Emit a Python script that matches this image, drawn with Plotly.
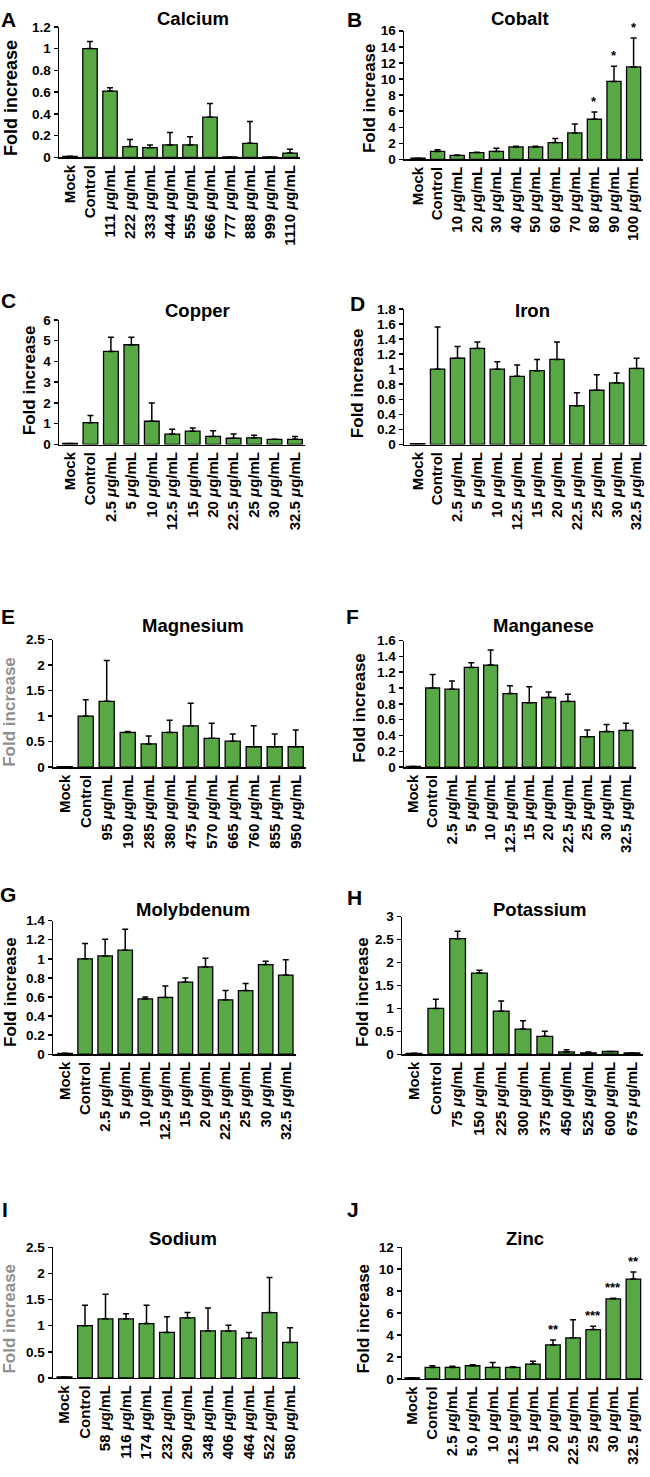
import plotly.graph_objects as go

W, H = 650, 1477
U = " <i>μ</i>g/mL"

# ---------------- data ----------------
cat_calcium = ["Mock", "Control"] + [f"{c}{U}" for c in ["111", "222", "333", "444", "555", "666", "777", "888", "999", "1110"]]
val_calcium = [0.01, 1.0, 0.61, 0.10, 0.09, 0.115, 0.115, 0.37, 0.005, 0.13, 0.005, 0.04]
err_calcium = [0, 0.065, 0.03, 0.065, 0.025, 0.115, 0.075, 0.125, 0, 0.20, 0, 0.035]

cat_cobalt = ["Mock", "Control"] + [f"{c}{U}" for c in ["10", "20", "30", "40", "50", "60", "70", "80", "90", "100"]]
val_cobalt = [0.15, 1.0, 0.5, 0.85, 1.0, 1.55, 1.55, 2.1, 3.3, 5.0, 9.7, 11.5]
err_cobalt = [0, 0.2, 0.05, 0.05, 0.4, 0.1, 0.1, 0.5, 1.1, 0.9, 1.9, 3.6]
sig_cobalt = ["", "", "", "", "", "", "", "", "", "*", "*", "*"]

cat_copper = ["Mock", "Control"] + [f"{c}{U}" for c in ["2.5", "5", "10", "12.5", "15", "20", "22.5", "25", "30", "32.5"]]
val_copper = [0.05, 1.05, 4.48, 4.8, 1.12, 0.5, 0.64, 0.39, 0.3, 0.32, 0.25, 0.25]
err_copper = [0, 0.35, 0.68, 0.36, 0.88, 0.24, 0.15, 0.27, 0.2, 0.13, 0, 0.13]

cat_iron = ["Mock", "Control"] + [f"{c}{U}" for c in ["2.5", "5", "10", "12.5", "15", "20", "22.5", "25", "30", "32.5"]]
val_iron = [0.01, 1.0, 1.145, 1.275, 1.0, 0.905, 0.98, 1.13, 0.515, 0.72, 0.817, 1.01]
err_iron = [0, 0.56, 0.155, 0.085, 0.1, 0.152, 0.15, 0.23, 0.171, 0.206, 0.133, 0.135]

cat_magnesium = ["Mock", "Control"] + [f"{c}{U}" for c in ["95", "190", "285", "380", "475", "570", "665", "760", "855", "950"]]
val_magnesium = [0.01, 1.0, 1.29, 0.68, 0.455, 0.68, 0.81, 0.565, 0.51, 0.40, 0.40, 0.40]
err_magnesium = [0, 0.32, 0.80, 0.02, 0.155, 0.24, 0.44, 0.295, 0.14, 0.41, 0.25, 0.33]

cat_manganese = ["Mock", "Control"] + [f"{c}{U}" for c in ["2.5", "5", "10", "12.5", "15", "20", "22.5", "25", "30", "32.5"]]
val_manganese = [0.01, 1.0, 0.985, 1.26, 1.29, 0.93, 0.815, 0.88, 0.83, 0.385, 0.45, 0.465]
err_manganese = [0, 0.17, 0.105, 0.06, 0.19, 0.10, 0.20, 0.07, 0.09, 0.085, 0.09, 0.09]

cat_molybdenum = ["Mock", "Control"] + [f"{c}{U}" for c in ["2.5", "5", "10", "12.5", "15", "20", "22.5", "25", "30", "32.5"]]
val_molybdenum = [0.01, 1.0, 1.03, 1.09, 0.58, 0.595, 0.756, 0.915, 0.57, 0.667, 0.94, 0.83]
err_molybdenum = [0, 0.16, 0.175, 0.22, 0.02, 0.12, 0.044, 0.09, 0.097, 0.075, 0.035, 0.16]

cat_potassium = ["Mock", "Control"] + [f"{c}{U}" for c in ["75", "150", "225", "300", "375", "450", "525", "600", "675"]]
val_potassium = [0.02, 1.0, 2.52, 1.77, 0.94, 0.55, 0.39, 0.05, 0.03, 0.06, 0.03]
err_potassium = [0, 0.2, 0.16, 0.06, 0.22, 0.18, 0.11, 0.05, 0.02, 0, 0]

cat_sodium = ["Mock", "Control"] + [f"{c}{U}" for c in ["58", "116", "174", "232", "290", "348", "406", "464", "522", "580"]]
val_sodium = [0.02, 1.0, 1.13, 1.13, 1.04, 0.87, 1.15, 0.9, 0.9, 0.76, 1.25, 0.68]
err_sodium = [0, 0.39, 0.47, 0.1, 0.35, 0.3, 0.1, 0.44, 0.11, 0.11, 0.67, 0.28]

cat_zinc = ["Mock", "Control"] + [f"{c}{U}" for c in ["2.5", "5.0", "10", "12.5", "15", "20", "22.5", "25", "30", "32.5"]]
val_zinc = [0.1, 1.05, 1.05, 1.2, 1.05, 1.05, 1.35, 3.1, 3.75, 4.5, 7.3, 9.1]
err_zinc = [0, 0.15, 0.1, 0.1, 0.45, 0.05, 0.25, 0.45, 1.65, 0.3, 0.05, 0.65]
sig_zinc = ["", "", "", "", "", "", "", "**", "", "***", "***", "**"]

# ---------------- layout (pixel placement) ----------------
panels = [
    dict(letter="A", title="Calcium", cats=cat_calcium, vals=val_calcium, errs=err_calcium, sig=None,
         ymax=1.2, dtick=0.2, axis_x=59, c0=70, sp=20, top=20, zero=152,
         tx=193, ty=12, lx=8, ly=13, ytx=11, yty=92, ytsize=18, ytcolor="black"),
    dict(letter="B", title="Cobalt", cats=cat_cobalt, vals=val_cobalt, errs=err_cobalt, sig=sig_cobalt,
         ymax=16, dtick=2, axis_x=404, c0=418, sp=19.6, top=24, zero=154,
         tx=520, ty=12, lx=354, ly=13, ytx=369, yty=92, ytsize=17, ytcolor="black"),
    dict(letter="C", title="Copper", cats=cat_copper, vals=val_copper, errs=err_copper, sig=None,
         ymax=6, dtick=1, axis_x=59, c0=70, sp=20.45, top=316, zero=442,
         tx=197, ty=307, lx=8, ly=297, ytx=29, yty=377, ytsize=17, ytcolor="black"),
    dict(letter="D", title="Iron", cats=cat_iron, vals=val_iron, errs=err_iron, sig=None,
         ymax=1.8, dtick=0.2, axis_x=404, c0=417.7, sp=19.9, top=305, zero=442,
         tx=532, ty=307, lx=357, ly=300, ytx=357, yty=380, ytsize=17, ytcolor="black"),
    dict(letter="E", title="Magnesium", cats=cat_magnesium, vals=val_magnesium, errs=err_magnesium, sig=None,
         ymax=2.5, dtick=0.5, axis_x=53, c0=64.7, sp=21, top=639, zero=768,
         tx=193, ty=625, lx=8, ly=616, ytx=10, yty=712, ytsize=17, ytcolor="#8f8f8f"),
    dict(letter="F", title="Manganese", cats=cat_manganese, vals=val_manganese, errs=err_manganese, sig=None,
         ymax=1.6, dtick=0.2, axis_x=404, c0=413.3, sp=19.33, top=640, zero=768,
         tx=543, ty=625, lx=352, ly=616, ytx=360, yty=708, ytsize=17, ytcolor="black"),
    dict(letter="G", title="Molybdenum", cats=cat_molybdenum, vals=val_molybdenum, errs=err_molybdenum, sig=None,
         ymax=1.4, dtick=0.2, axis_x=53, c0=65, sp=20.07, top=923, zero=1058,
         tx=193, ty=912, lx=8, ly=897, ytx=11, yty=995, ytsize=17, ytcolor="black"),
    dict(letter="H", title="Potassium", cats=cat_potassium, vals=val_potassium, errs=err_potassium, sig=None,
         ymax=3, dtick=0.5, axis_x=402, c0=414, sp=21.8, top=919, zero=1058,
         tx=540, ty=912, lx=354, ly=900, ytx=363, yty=995, ytsize=17, ytcolor="black"),
    dict(letter="I", title="Sodium", cats=cat_sodium, vals=val_sodium, errs=err_sodium, sig=None,
         ymax=2.5, dtick=0.5, axis_x=53, c0=64.5, sp=20.5, top=1253, zero=1385,
         tx=183, ty=1244, lx=5, ly=1215, ytx=10, yty=1325, ytsize=17, ytcolor="#8f8f8f"),
    dict(letter="J", title="Zinc", cats=cat_zinc, vals=val_zinc, errs=err_zinc, sig=sig_zinc,
         ymax=12, dtick=2, axis_x=402, c0=412.3, sp=20.1, top=1253, zero=1386,
         tx=525, ty=1244, lx=353, ly=1215, ytx=364, yty=1325, ytsize=17, ytcolor="black"),
]

FONT = "Liberation Sans, Arial, Helvetica, sans-serif"
BAR = "#58a846"

fig = go.Figure()
annotations = []

for i, p in enumerate(panels):
    k = "" if i == 0 else str(i + 1)
    n = len(p["cats"])
    xs = list(range(n))
    fig.add_trace(go.Bar(
        x=xs, y=p["vals"], width=0.72,
        marker=dict(color=BAR, line=dict(color="black", width=1.3)),
        error_y=dict(type="data", symmetric=False, array=p["errs"], arrayminus=[0] * n,
                     color="black", thickness=1.5, width=3),
        xaxis="x" + k, yaxis="y" + k, showlegend=False, hoverinfo="skip",
    ))
    right = p["c0"] + (n - 1) * p["sp"] + 0.5 * p["sp"]
    xr = [-(p["c0"] - p["axis_x"]) / p["sp"], (right - p["c0"]) / p["sp"]]
    fig.layout["xaxis" + k] = dict(
        domain=[p["axis_x"] / W, right / W], range=xr, anchor="y" + k,
        tickmode="array", tickvals=xs, ticktext=p["cats"], tickangle=-90,
        showline=True, linecolor="black", linewidth=1.5, ticks="",
        showgrid=False, zeroline=False,
        tickfont=dict(family=FONT, size=15, color="black", weight="bold"),
    )
    fig.layout["yaxis" + k] = dict(
        domain=[1 - p["zero"] / H, 1 - p["top"] / H], range=[0, p["ymax"]], anchor="x" + k,
        dtick=p["dtick"], tick0=0, showline=True, linecolor="black", linewidth=1.5,
        ticks="outside", ticklen=4, tickwidth=1.5, tickcolor="black",
        showgrid=False, zeroline=False,
        tickfont=dict(family=FONT, size=13.5, color="black", weight="bold"),
    )
    annotations.append(dict(text=p["title"], x=p["tx"] / W, y=1 - p["ty"] / H, xref="paper", yref="paper",
                            showarrow=False, xanchor="center", yanchor="middle",
                            font=dict(family=FONT, size=18.5, color="black", weight="bold")))
    annotations.append(dict(text=p["letter"], x=p["lx"] / W, y=1 - p["ly"] / H, xref="paper", yref="paper",
                            showarrow=False, xanchor="center", yanchor="middle",
                            font=dict(family=FONT, size=21, color="black", weight="bold")))
    annotations.append(dict(text="Fold increase", x=p["ytx"] / W, y=1 - p["yty"] / H, xref="paper", yref="paper",
                            showarrow=False, xanchor="center", yanchor="middle", textangle=-90,
                            font=dict(family=FONT, size=p["ytsize"], color=p["ytcolor"], weight="bold")))
    if p["sig"]:
        for j, s in enumerate(p["sig"]):
            if s:
                annotations.append(dict(text=s, x=j, y=p["vals"][j] + p["errs"][j], xref="x" + k, yref="y" + k,
                                        showarrow=False, xanchor="center", yanchor="bottom", yshift=1,
                                        font=dict(family=FONT, size=13, color="black", weight="bold")))

fig.update_layout(
    width=W, height=H, margin=dict(l=0, r=0, t=0, b=0),
    paper_bgcolor="white", plot_bgcolor="white",
    annotations=annotations, bargap=0.28, hovermode=False,
)

fig.write_html("out.html", config={"displayModeBar": False, "staticPlot": True},
               post_script="document.body.style.margin='0';document.body.style.overflow='hidden';")
